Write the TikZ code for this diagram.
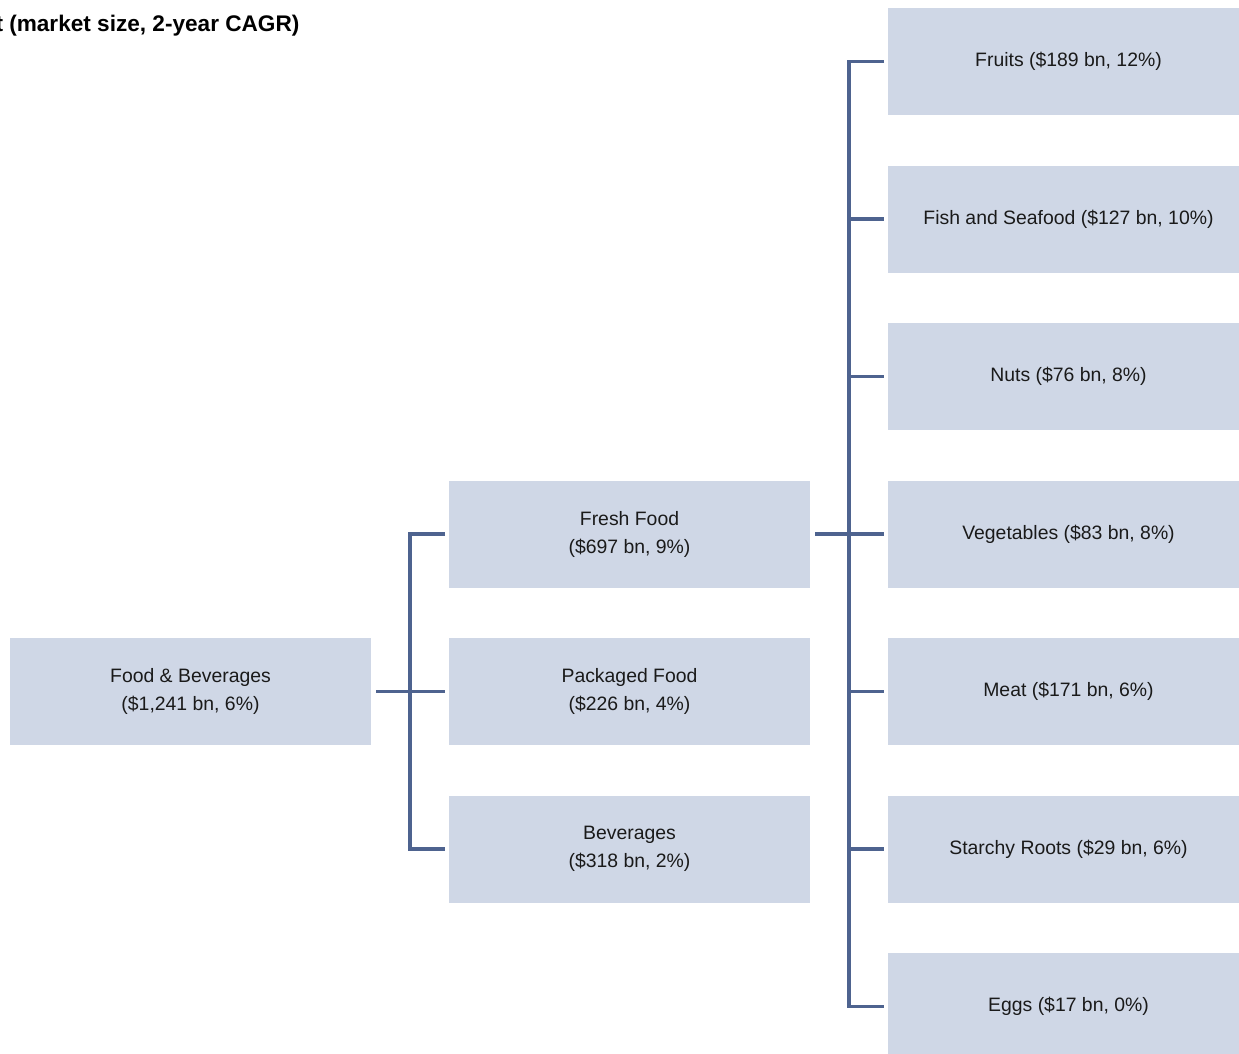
\documentclass[tikz,border=0pt]{standalone}
\usepackage{fontspec}
\setmainfont{Liberation Sans}
\usepackage{tikz}
\usetikzlibrary{positioning, calc}

\definecolor{boxfill}{RGB}{207,215,230}
\definecolor{linkblue}{RGB}{78,99,143}
\definecolor{textdark}{RGB}{26,26,26}

\begin{document}
\begin{tikzpicture}[x=1pt, y=1pt, node distance=50.5pt and 78pt]

        % Define styles
        \tikzstyle{block} = [rectangle, fill=boxfill, text=textdark, align=center, minimum width=361pt, minimum height=107pt, inner sep=0pt, outer sep=0pt, font=\fontsize{19.4}{28}\selectfont]
        \tikzstyle{link} = [draw=linkblue, line width=3.6pt]

        \useasboundingbox (0,0) rectangle (1239,-1054);

        % Title
        \node [anchor=base east, text=black, font=\bfseries\fontsize{22.6}{26}\selectfont] (title) at (303,-32) {t (market size, 2-year CAGR)};

        % Place nodes
        \node [block] (root) at (190.5,-691.5) {Food \& Beverages\\(\$1,241 bn, 6\%)};
        \node [block, right=of root] (packaged) {Packaged Food\\(\$226 bn, 4\%)};
        \node [block, above=of packaged] (fresh) {Fresh Food\\(\$697 bn, 9\%)};
        \node [block, below=of packaged] (beverages) {Beverages\\(\$318 bn, 2\%)};

        % Fresh food breakdown
        \node [block, right=of fresh] (vegetables) {Vegetables (\$83 bn, 8\%)};
        \node [block, above=of vegetables] (nuts) {Nuts (\$76 bn, 8\%)};
        \node [block, above=of nuts] (fish) {Fish and Seafood (\$127 bn, 10\%)};
        \node [block, above=of fish] (fruits) {Fruits (\$189 bn, 12\%)};
        \node [block, below=of vegetables] (meat) {Meat (\$171 bn, 6\%)};
        \node [block, below=of meat] (starchy) {Starchy Roots (\$29 bn, 6\%)};
        \node [block, below=of starchy] (eggs) {Eggs (\$17 bn, 0\%)};

        % Draw edges
        \coordinate (forkA) at ($(root.east)!0.5!(packaged.west)$);
        \path [link] ([xshift=5pt]root.east) -- ([xshift=-4pt]packaged.west);
        \path [link] ([xshift=-4pt]fresh.west) -| (forkA) |- ([xshift=-4pt]beverages.west);

        \coordinate (forkB) at ($(fresh.east)!0.5!(vegetables.west)$);
        \path [link] ([xshift=5pt]fresh.east) -- ([xshift=-4pt]vegetables.west);
        \path [link] ([xshift=-4pt]fruits.west) -| (forkB) |- ([xshift=-4pt]eggs.west);
        \foreach \leaf in {fish, nuts, meat, starchy}
            \path [link] (forkB |- \leaf.west) -- ([xshift=-4pt]\leaf.west);

\end{tikzpicture}
\end{document}
